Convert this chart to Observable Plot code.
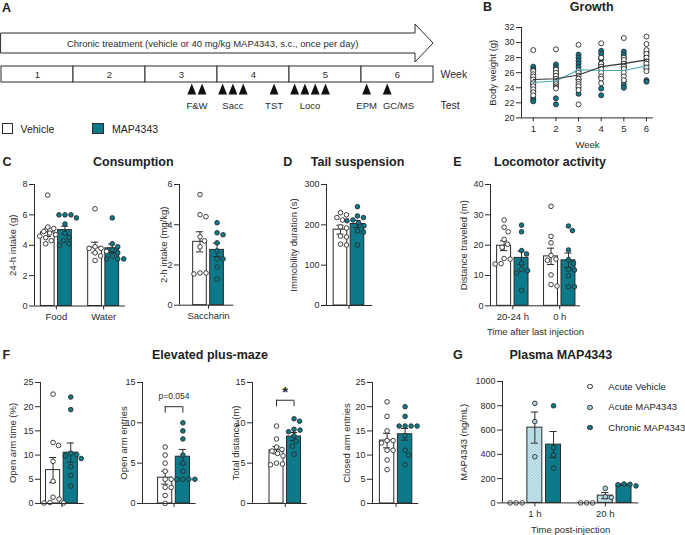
<!DOCTYPE html>
<html><head><meta charset="utf-8">
<script src="https://cdn.jsdelivr.net/npm/d3@7"></script>
<script src="https://cdn.jsdelivr.net/npm/@observablehq/plot@0.6"></script>
<style>
body{margin:0;background:#fff;}
#fig{position:relative;width:685px;height:535px;overflow:hidden;font-family:"Liberation Sans",Arial,sans-serif;color:#222;background:#fff;}
.abs{position:absolute;white-space:nowrap;line-height:1;}
.sw{position:absolute;box-sizing:border-box;}
</style></head><body><div id="fig"></div>
<script>
// ---------------- DATA ----------------
// Panel A: timeline
const weeks = [1, 2, 3, 4, 5, 6];
const treatmentText = "Chronic treatment (vehicle or 40 mg/kg MAP4343, s.c., once per day)";
const testNames = ["F&W", "Sacc", "TST", "Loco", "EPM", "GC/MS"];
const testDays = [[19, 20], [22, 23, 24], [27], [29, 30, 31, 32], [36], [38]];
const groupNames = ["Vehicle", "MAP4343"];

// Panel B: growth
const growthWeeks = [1, 2, 3, 4, 5, 6];
const growthVehicle = [
  [29.0, 26.2, 25.8, 25.5, 25.1, 24.6, 24.2, 23.8, 23.4, 23.0],
  [29.1, 26.4, 26.0, 25.6, 25.2, 24.8, 24.5, 24.2, 24.0, 23.9],
  [29.7, 26.3, 26.0, 25.6, 25.2, 24.8, 24.5, 24.2, 23.7, 21.8],
  [29.9, 28.0, 27.2, 26.8, 26.5, 26.0, 25.5, 25.2, 24.6],
  [30.6, 28.0, 27.7, 27.2, 26.8, 26.5, 26.0, 25.5, 25.0],
  [30.8, 29.8, 29.0, 28.5, 28.0, 27.5, 27.2, 26.7, 26.2]
];
const growthMap = [
  [26.8, 26.4, 25.4, 24.8, 24.5, 24.2, 23.5, 22.7, 22.4, 22.2],
  [27.1, 26.7, 26.3, 25.8, 25.4, 25.0, 24.5, 22.6, 21.8],
  [28.4, 28.0, 27.6, 27.2, 26.8, 26.1, 25.1, 24.0, 23.2],
  [28.9, 28.5, 28.0, 27.8, 27.2, 26.8, 23.9, 23.0],
  [28.8, 28.4, 28.0, 27.4, 26.8, 24.9, 24.4, 24.0],
  [28.7, 28.2, 27.7, 27.0, 26.5, 25.0, 24.8]
];
const growthVehicleMean = [25.1, 25.2, 25.7, 26.8, 27.2, 27.7];
const growthMapMean = [24.7, 24.9, 26.4, 26.3, 26.3, 26.9];

// Panel C: consumption
const consumptionGroups = ["Food", "Water"];
const consumptionVehicleMean = [4.85, 3.85];
const consumptionVehicleSem = [0.28, 0.35];
const consumptionMapMean = [5.0, 3.8];
const consumptionMapSem = [0.25, 0.28];
const consumptionVehiclePoints = [
  [7.3, 5.2, 5.1, 4.9, 4.8, 4.7, 4.6, 4.5, 4.3, 4.1],
  [6.4, 3.9, 3.8, 3.8, 3.6, 3.5, 3.3, 3.0]
];
const consumptionMapPoints = [
  [6.0, 6.0, 6.0, 5.8, 5.4, 4.8, 4.5, 4.3, 4.1, 4.0],
  [5.8, 4.1, 3.9, 3.7, 3.5, 3.3, 3.1, 3.1, 3.1]
];
const saccharinGroups = ["Saccharin"];
const saccharinVehicleMean = [3.15];
const saccharinVehicleSem = [0.5];
const saccharinMapMean = [2.75];
const saccharinMapSem = [0.33];
const saccharinVehiclePoints = [[5.5, 4.5, 4.4, 3.4, 3.2, 2.9, 1.6, 1.6, 1.55]];
const saccharinMapPoints = [[4.1, 3.6, 3.5, 3.1, 2.7, 2.3, 2.3, 1.9, 1.3]];

// Panel D: tail suspension
const tailGroups = [""];
const tailVehicleMean = [188];
const tailVehicleSem = [11];
const tailMapMean = [202];
const tailMapSem = [9];
const tailVehiclePoints = [[230, 225, 218, 212, 195, 192, 172, 170, 152, 150]];
const tailMapPoints = [[245, 222, 218, 212, 210, 205, 198, 185, 182, 150]];

// Panel E: locomotor activity
const locoGroups = ["20-24 h", "0 h"];
const locoVehicleMean = [19.8, 16.3];
const locoVehicleSem = [1.6, 2.7];
const locoMapMean = [15.8, 15.0];
const locoMapSem = [2.2, 2.4];
const locoVehiclePoints = [
  [28.3, 25.9, 24.4, 21.9, 20.3, 19.3, 15.6, 15.4, 13.9, 13.8],
  [32.8, 22.9, 20.8, 16.6, 15.4, 15.0, 10.2, 7.0, 6.5]
];
const locoMapPoints = [
  [26.6, 24.4, 18.2, 17.1, 14.0, 12.0, 11.6, 10.8, 5.1],
  [26.3, 24.8, 18.4, 15.2, 14.0, 12.0, 11.8, 9.9, 6.3, 6.3]
];

// Panel F: elevated plus-maze
const epmLabels = ["Open arm time (%)", "Open arm entries", "Total distance (m)", "Closed arm entries"];
const epmYMax = [25, 15, 15, 25];
const epmTicks = [[0, 5, 10, 15, 20, 25], [0, 5, 10, 15], [0, 5, 10, 15], [0, 5, 10, 15, 20, 25]];
const epmVehicleMean = [6.9, 3.2, 6.6, 13.0];
const epmVehicleSem = [2.6, 0.8, 0.45, 1.5];
const epmMapMean = [10.5, 5.8, 8.3, 14.3];
const epmMapSem = [2.0, 0.9, 0.5, 1.2];
const epmVehiclePoints = [
  [22.6, 12.6, 12.0, 8.7, 4.6, 1.3, 0.9, 0.2, 0.1, 0.1],
  [7, 6, 5, 4, 3, 3, 2, 2, 1, 0],
  [9.6, 8.0, 7.0, 6.7, 6.5, 6.2, 5.9, 5.0, 4.9, 4.8],
  [21, 18, 15, 13, 13, 12.5, 11, 11, 9, 7]
];
const epmMapPoints = [
  [22.0, 19.4, 10.4, 10.1, 9.8, 9.3, 7.6, 5.8, 3.6],
  [10, 9, 8, 6, 5, 4, 3, 3, 3, 3],
  [10.5, 10.2, 9.2, 9.1, 8.9, 8.4, 7.7, 7.1, 6.1],
  [20, 18, 16, 16, 16, 16, 14, 11, 10, 8]
];
const epmAnnotations = ["", "p=0.054", "*", ""];
const epmBracketLevel = [0, 12, 12.8, 0];

// Panel G: plasma MAP4343
const plasmaGroups = ["1 h", "20 h"];
const plasmaSeries = ["Acute Vehicle", "Acute MAP4343", "Chronic MAP4343"];
const plasmaAcuteVehiclePoints = [[0, 0, 0], [0, 0, 0]];
const plasmaAcuteMapMean = [620, 60];
const plasmaAcuteMapSem = [128, 25];
const plasmaAcuteMapPoints = [[820, 670, 380], [120, 50, 45]];
const plasmaChronicMapMean = [480, 150];
const plasmaChronicMapSem = [108, 6];
const plasmaChronicMapPoints = [[800, 455, 395, 285], [156, 153, 150, 140]];

// ---------------- STYLE ----------------
const FONT = '"Liberation Sans", Arial, sans-serif';
const INK = "#2b2b2b";
const TEAL = "#0c7a8b";
const TEAL_LINE = "#47a6b5";
const LIGHT = "#a9d5de";
const DOT_R = 2.3;
const DOT_D = 5.9;
const fig = document.getElementById("fig");
const measureCtx = document.createElement("canvas").getContext("2d");
function textWidth(str, size) { measureCtx.font = `${size}px "Liberation Sans"`; return measureCtx.measureText(str).width; }
const plain = d => String(d);

function addText(str, x, y, {size = 9.5, weight = "normal", anchor = "start"} = {}) {
  const d = document.createElement("div");
  d.className = "abs";
  d.textContent = str;
  d.style.left = x + "px";
  d.style.top = y + "px";
  d.style.fontSize = size + "px";
  d.style.fontWeight = weight;
  const tx = anchor === "middle" ? "-50%" : anchor === "end" ? "-100%" : "0";
  d.style.transform = `translate(${tx}, -50%)`;
  fig.appendChild(d);
}
function addSwatch(x, y, w, h, fill, round) {
  const d = document.createElement("div");
  d.className = "sw";
  Object.assign(d.style, {left: x + "px", top: y + "px", width: w + "px", height: h + "px",
    background: fill, border: "0.9px solid " + INK, borderRadius: round ? "50%" : "0"});
  fig.appendChild(d);
}

function place(svg, left, top) {
  Object.assign(svg.style, {position: "absolute", left: left + "px", top: top + "px",
    overflow: "visible", fontFamily: FONT, color: INK, background: "none", maxWidth: "none"});
  fig.appendChild(svg);
  return svg;
}

function swarm(values, pxPerUnit, dist) {
  const order = d3.range(values.length).sort((a, b) => d3.descending(values[a], values[b]));
  const placed = [], out = new Array(values.length).fill(0);
  for (const i of order) {
    const y = values[i] * pxPerUnit;
    let best = 0;
    for (let m = 0; m < 400; m++) {
      const cand = m === 0 ? 0 : (m % 2 ? 1 : -1) * Math.ceil(m / 2) * 0.5;
      if (placed.every(p => (p.x - cand) ** 2 + (p.y - y) ** 2 >= dist * dist)) { best = cand; break; }
    }
    placed.push({x: best, y});
    out[i] = best;
  }
  return out;
}

const yLabel = (label, offset) => Plot.text([label], {text: d => d, frameAnchor: "left", rotate: -90, dx: -offset,
  textAnchor: "middle", lineAnchor: "middle", fontSize: 9.5});
const xLabel = (label, dy) => Plot.text([label], {text: d => d, frameAnchor: "bottom", dy,
  textAnchor: "middle", lineAnchor: "middle", fontSize: 9.5});

// generic bar + scatter panel
function barPanel(c) {
  const m = {l: 50, r: 14, t: 16, b: 38};
  const fw = c.frame.right - c.frame.left, fh = c.frame.bottom - c.frame.top;
  const nG = c.groups.length, nS = c.series.length, step = c.groupStep || 0;
  const xDom = [-c.padL, (nG - 1) * step + (nS - 1) + c.padR];
  const slotPx = fw / (xDom[1] - xDom[0]);
  const yPx = fh / c.yMax;
  const center = g => g * step + (nS - 1) / 2;
  const labelOf = new Map(c.groups.map((l, g) => [center(g), l]));
  const cap = 3.6 / slotPx;
  const barMarks = [], errMarks = [], dotMarks = [];
  c.series.forEach((s, k) => {
    const rows = c.groups.map((_, g) => ({slot: g * step + k, mean: s.mean ? s.mean[g] : 0, sem: s.sem ? s.sem[g] : 0}));
    if (s.barFill) barMarks.push(Plot.rectY(rows, {x1: d => d.slot - 0.4, x2: d => d.slot + 0.4, y1: 0, y2: "mean",
      fill: s.barFill, stroke: INK, strokeWidth: 1}));
    const er = rows.filter(d => d.sem > 0);
    errMarks.push(Plot.ruleX(er, {x: "slot", y1: d => d.mean - d.sem, y2: d => d.mean + d.sem, stroke: INK, strokeWidth: 1}));
    errMarks.push(Plot.ruleY(er.flatMap(d => [{s: d.slot, v: d.mean - d.sem}, {s: d.slot, v: d.mean + d.sem}]),
      {y: "v", x1: d => d.s - cap, x2: d => d.s + cap, stroke: INK, strokeWidth: 1}));
    const pts = c.groups.flatMap((_, g) => {
      const vals = s.points[g];
      const off = swarm(vals, yPx, DOT_D);
      return vals.map((v, i) => ({x: g * step + k + off[i] / slotPx, y: v}));
    });
    dotMarks.push(Plot.dot(pts, {x: "x", y: "y", r: DOT_R, fill: s.dotFill, stroke: INK, strokeWidth: 0.9}));
  });
  const marks = [
    ...barMarks, ...errMarks, ...dotMarks,
    Plot.ruleY([0], {stroke: INK, strokeWidth: 1}),
    Plot.ruleX([xDom[0]], {stroke: INK, strokeWidth: 1}),
    Plot.axisY({ticks: c.yTicks, tickFormat: plain, tickSize: 5, tickPadding: 2, label: null, fontSize: 9}),
    Plot.axisX({ticks: c.groups.map((_, g) => center(g)), tickFormat: d => labelOf.get(d), tickSize: 4, tickPadding: 3, label: null, fontSize: 9.5}),
    yLabel(c.ylabel, c.ylabelOffset)
  ];
  if (c.xlabel) marks.push(xLabel(c.xlabel, c.xlabelDy));
  if (c.extra) marks.push(...c.extra({slot: (g, k) => g * step + k, yPx}));
  const svg = Plot.plot({
    width: fw + m.l + m.r, height: fh + m.t + m.b,
    marginLeft: m.l, marginRight: m.r, marginTop: m.t, marginBottom: m.b,
    x: {domain: xDom}, y: {domain: [0, c.yMax]},
    marks
  });
  if (c.defs) {
    const defs = document.createElementNS("http://www.w3.org/2000/svg", "defs");
    defs.innerHTML = c.defs;
    svg.insertBefore(defs, svg.firstChild);
  }
  return place(svg, c.frame.left - m.l, c.frame.top - m.t);
}

// ---------------- PANEL A ----------------
{
  const row = {arrowTop: 33, arrowBottom: 53, headTop: 24, headBottom: 62, weekTop: 66, weekBottom: 82, tri: 88.5, test: 105};
  const headStart = 40.25, tip = weeks.length * 7;
  const xRange = [1, 433];
  const pxPerDay = (xRange[1] - xRange[0]) / tip;
  const arrow = [
    {x: 0, y1: row.arrowTop, y2: row.arrowBottom},
    {x: headStart, y1: row.arrowTop, y2: row.arrowBottom},
    {x: headStart, y1: row.headTop, y2: row.headBottom},
    {x: tip, y1: (row.headTop + row.headBottom) / 2, y2: (row.headTop + row.headBottom) / 2}
  ];
  const tallTriangle = {draw(ctx, size) {
    const r = Math.sqrt(size / Math.PI);
    ctx.moveTo(0, -r); ctx.lineTo(0.8 * r, r); ctx.lineTo(-0.8 * r, r); ctx.closePath();
  }};
  // test labels centred under their triangles, nudged right when they would collide
  const tests = testNames.map((name, i) => ({name, pos: d3.mean(testDays[i]) - 0.5, w: textWidth(name, 9.5)}));
  for (let i = 1; i < tests.length; i++) {
    const prevRight = tests[i - 1].pos + tests[i - 1].w / 2 / pxPerDay;
    const minPos = prevRight + 6 / pxPerDay + tests[i].w / 2 / pxPerDay;
    if (tests[i].pos < minPos) tests[i].pos = minPos;
  }
  const svg = Plot.plot({
    width: 470, height: 140, margin: 0,
    x: {domain: [0, tip], range: xRange, axis: null},
    y: {domain: [0, 140], range: [0, 140], axis: null},
    marks: [
      Plot.areaY(arrow, {x: "x", y1: "y1", y2: "y2", fill: "white", stroke: INK, strokeWidth: 1, curve: "linear"}),
      Plot.text([treatmentText], {text: d => d, x: headStart / 2 + 0.4, y: (row.arrowTop + row.arrowBottom) / 2, fontSize: 9.5}),
      Plot.rect(weeks, {x1: w => (w - 1) * 7, x2: w => w * 7, y1: row.weekTop, y2: row.weekBottom, fill: "white", stroke: INK, strokeWidth: 1}),
      Plot.text(weeks, {x: w => (w - 0.5) * 7, y: (row.weekTop + row.weekBottom) / 2, text: plain, fontSize: 9.5}),
      Plot.dot(testDays.flat(), {x: d => d - 0.5, y: row.tri, symbol: tallTriangle, r: 5.5, fill: "#111", stroke: "none"}),
      Plot.text(tests, {x: "pos", y: row.test, text: "name", fontSize: 9.5}),
      Plot.text(["Week"], {text: d => d, x: tip, y: (row.weekTop + row.weekBottom) / 2, dx: 7, textAnchor: "start", fontSize: 10.5}),
      Plot.text(["Test"], {text: d => d, x: tip, y: row.test, dx: 7, textAnchor: "start", fontSize: 10.5})
    ]
  });
  place(svg, 0, 0);
  addText("A", 2, 8, {size: 12.5, weight: "bold"});
  addSwatch(2, 123, 10.5, 10.5, "white");
  addText(groupNames[0], 20.5, 128.5, {size: 10.5});
  addSwatch(92, 123, 11.5, 10.5, TEAL);
  addText(groupNames[1], 112, 128.5, {size: 10.5});
}

// ---------------- PANEL B ----------------
{
  const frame = {left: 521, right: 653, top: 27.3, bottom: 117.7};
  const m = {l: 50, r: 20, t: 14, b: 36};
  const xDom = [0.48, 6.31];
  const rows = arr => arr.flatMap((vals, i) => vals.map(v => ({week: growthWeeks[i], v})));
  const svg = Plot.plot({
    width: frame.right - frame.left + m.l + m.r, height: frame.bottom - frame.top + m.t + m.b,
    marginLeft: m.l, marginRight: m.r, marginTop: m.t, marginBottom: m.b,
    x: {domain: xDom}, y: {domain: [20, 32]},
    marks: [
      Plot.dot(rows(growthMap), {x: "week", y: "v", r: DOT_R + 0.2, fill: TEAL, stroke: INK, strokeWidth: 0.9}),
      Plot.dot(rows(growthVehicle), {x: "week", y: "v", r: DOT_R + 0.2, fill: "white", stroke: INK, strokeWidth: 0.9}),
      Plot.line(growthWeeks, {x: d => d, y: (d, i) => growthMapMean[i], stroke: TEAL_LINE, strokeWidth: 1.1}),
      Plot.line(growthWeeks, {x: d => d, y: (d, i) => growthVehicleMean[i], stroke: "#333", strokeWidth: 1.1}),
      Plot.ruleY([20], {stroke: INK}),
      Plot.ruleX([xDom[0]], {stroke: INK}),
      Plot.axisY({ticks: [20, 22, 24, 26, 28, 30, 32], tickFormat: plain, tickSize: 5, tickPadding: 2, label: null, fontSize: 9}),
      Plot.axisX({ticks: growthWeeks, tickFormat: plain, tickSize: 4, tickPadding: 3, label: null, fontSize: 9.5}),
      yLabel("Body weight (g)", 28.5),
      xLabel("Week", 26.6)
    ]
  });
  place(svg, frame.left - m.l, frame.top - m.t);
  addText("B", 483, 6.5, {size: 12.5, weight: "bold"});
  addText("Growth", 591.7, 6.5, {size: 12.5, weight: "bold", anchor: "middle"});
}

// ---------------- PANEL C ----------------
barPanel({
  frame: {left: 34, right: 125, top: 183.5, bottom: 305}, yMax: 8, yTicks: [0, 2, 4, 6, 8],
  groups: consumptionGroups, groupStep: 2.75, padL: 0.77, padR: 0.77,
  series: [
    {mean: consumptionVehicleMean, sem: consumptionVehicleSem, points: consumptionVehiclePoints, barFill: "white", dotFill: "white"},
    {mean: consumptionMapMean, sem: consumptionMapSem, points: consumptionMapPoints, barFill: TEAL, dotFill: TEAL}
  ],
  ylabel: "24-h intake (g)", ylabelOffset: 22
});
barPanel({
  frame: {left: 179, right: 233.3, top: 184.3, bottom: 305}, yMax: 6, yTicks: [0, 2, 4, 6],
  groups: saccharinGroups, padL: 1.2, padR: 0.98,
  series: [
    {mean: saccharinVehicleMean, sem: saccharinVehicleSem, points: saccharinVehiclePoints, barFill: "white", dotFill: "white"},
    {mean: saccharinMapMean, sem: saccharinMapSem, points: saccharinMapPoints, barFill: TEAL, dotFill: TEAL}
  ],
  ylabel: "2-h intake (mg/kg)", ylabelOffset: 16
});
addText("C", 2.5, 161.5, {size: 12.5, weight: "bold"});
addText("Consumption", 133.3, 161.5, {size: 12.5, weight: "bold", anchor: "middle"});

// ---------------- PANEL D ----------------
barPanel({
  frame: {left: 325.7, right: 372, top: 184.3, bottom: 305.3}, yMax: 300, yTicks: [0, 100, 200, 300],
  groups: tailGroups, padL: 0.82, padR: 0.9,
  series: [
    {mean: tailVehicleMean, sem: tailVehicleSem, points: tailVehiclePoints, barFill: "white", dotFill: "white"},
    {mean: tailMapMean, sem: tailMapSem, points: tailMapPoints, barFill: TEAL, dotFill: TEAL}
  ],
  ylabel: "Immobility duration (s)", ylabelOffset: 33
});
addText("D", 283.3, 161.5, {size: 12.5, weight: "bold"});
addText("Tail suspension", 357.5, 161.5, {size: 12.5, weight: "bold", anchor: "middle"});

// ---------------- PANEL E ----------------
barPanel({
  frame: {left: 490, right: 580, top: 184, bottom: 305.3}, yMax: 40, yTicks: [0, 10, 20, 30, 40],
  groups: locoGroups, groupStep: 2.69, padL: 0.78, padR: 0.69,
  series: [
    {mean: locoVehicleMean, sem: locoVehicleSem, points: locoVehiclePoints, barFill: "white", dotFill: "white"},
    {mean: locoMapMean, sem: locoMapSem, points: locoMapPoints, barFill: TEAL, dotFill: TEAL}
  ],
  ylabel: "Distance traveled (m)", ylabelOffset: 27,
  xlabel: "Time after last injection", xlabelDy: 26.4
});
addText("E", 453.3, 161.5, {size: 12.5, weight: "bold"});
addText("Locomotor activity", 550, 161.5, {size: 12.5, weight: "bold", anchor: "middle"});

// ---------------- PANEL F ----------------
{
  const frames = [
    {left: 40.3, right: 84, padL: 0.71, padR: 0.76, off: 28},
    {left: 142.3, right: 196, padL: 1.28, padR: 0.75, off: 19},
    {left: 252.3, right: 307, padL: 1.37, padR: 0.75, off: 17},
    {left: 371.7, right: 418, padL: 0.81, padR: 0.76, off: 26}
  ];
  epmLabels.forEach((label, i) => {
    const f = frames[i];
    barPanel({
      frame: {left: f.left, right: f.right, top: 382.3, bottom: 503.3}, yMax: epmYMax[i], yTicks: epmTicks[i],
      groups: [""], padL: f.padL, padR: f.padR,
      series: [
        {mean: [epmVehicleMean[i]], sem: [epmVehicleSem[i]], points: [epmVehiclePoints[i]], barFill: "white", dotFill: "white"},
        {mean: [epmMapMean[i]], sem: [epmMapSem[i]], points: [epmMapPoints[i]], barFill: TEAL, dotFill: TEAL}
      ],
      ylabel: label, ylabelOffset: f.off,
      extra: epmAnnotations[i] ? ({slot, yPx}) => {
        const lvl = epmBracketLevel[i], s0 = slot(0, 0), s1 = slot(0, 1);
        const star = epmAnnotations[i] === "*";
        return [
          Plot.ruleY([lvl], {x1: s0, x2: s1, stroke: INK, strokeWidth: 1}),
          Plot.ruleX([s0, s1], {y1: lvl - 6.5 / yPx, y2: lvl, stroke: INK, strokeWidth: 1}),
          Plot.text([epmAnnotations[i]], {text: d => d, x: (s0 + s1) / 2, y: lvl, dy: star ? -3 : -10.5,
            lineAnchor: star ? "bottom" : "middle", fontSize: star ? 15 : 8.5, fontWeight: star ? "bold" : "normal"})
        ];
      } : null
    });
  });
  addText("F", 2.5, 355, {size: 12.5, weight: "bold"});
  addText("Elevated plus-maze", 210, 355, {size: 12.5, weight: "bold", anchor: "middle"});
}

// ---------------- PANEL G ----------------
barPanel({
  frame: {left: 501.7, right: 638, top: 381.3, bottom: 502.7}, yMax: 1000, yTicks: [0, 200, 400, 600, 800, 1000],
  groups: plasmaGroups, groupStep: 3.77, padL: 0.73, padR: 0.79,
  series: [
    {points: plasmaAcuteVehiclePoints, dotFill: "white"},
    {mean: plasmaAcuteMapMean, sem: plasmaAcuteMapSem, points: plasmaAcuteMapPoints, barFill: "url(#acuteHatch)", dotFill: LIGHT},
    {mean: plasmaChronicMapMean, sem: plasmaChronicMapSem, points: plasmaChronicMapPoints, barFill: TEAL, dotFill: TEAL}
  ],
  ylabel: "MAP4343 (ng/mL)", ylabelOffset: 39,
  xlabel: "Time post-injection", xlabelDy: 26.6,
  defs: `<pattern id="acuteHatch" width="3" height="3" patternUnits="userSpaceOnUse"><rect width="3" height="3" fill="#d3eaf0"/><rect width="1.5" height="1.5" fill="#9fcfda"/><rect x="1.5" y="1.5" width="1.5" height="1.5" fill="#9fcfda"/></pattern>`
});
addText("G", 453, 355, {size: 12.5, weight: "bold"});
addText("Plasma MAP4343", 560.8, 355, {size: 12.5, weight: "bold", anchor: "middle"});
{
  const fills = ["white", LIGHT, TEAL];
  const ys = [386.7, 407.3, 427.7];
  plasmaSeries.forEach((name, i) => {
    addSwatch(587.3, ys[i] - 2.7, 5.4, 5.4, fills[i], true);
    addText(name, 608.3, ys[i], {size: 9.5});
  });
}
</script>
</body></html>
